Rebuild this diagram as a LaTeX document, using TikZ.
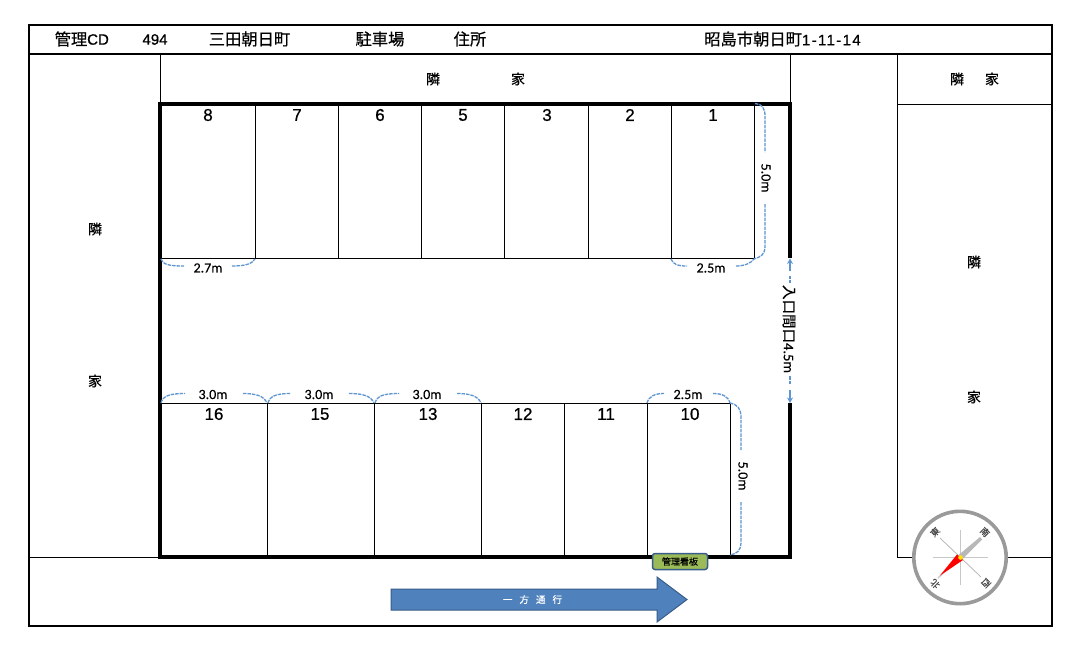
\documentclass[tikz,border=0pt]{standalone}
\usepackage{fontspec}
\setmainfont{Liberation Sans}
\newfontfamily\cjk[FakeBold=0.5]{Noto Sans CJK JP}
\newfontfamily\hw[FakeBold=0.5,LetterSpace=9]{Liberation Sans}
\newfontfamily\num[FakeBold=0.8]{Liberation Sans}
\newfontfamily\dimf[FakeBold=0.2]{Carlito}
\usetikzlibrary{arrows.meta}
\definecolor{dimblue}{HTML}{5F95D0}
\definecolor{arrowfill}{HTML}{4F81BD}
\definecolor{arrowedge}{HTML}{385D8A}
\definecolor{signfill}{HTML}{9BBB59}
\definecolor{ringgray}{HTML}{9A9A9A}
\tikzset{
  thinline/.style={line width=1pt,black},
  wall/.style={line width=4pt,black,line cap=butt,line join=miter},
  frameline/.style={line width=2pt,black},
  dimline/.style={line width=1.3pt,dimblue,dash pattern=on 3.5pt off 1pt},
  head/.style={font=\cjk\fontsize{16.3}{16}\selectfont,inner sep=0pt,text=black},
  headlatin/.style={font=\num\fontsize{15}{16}\selectfont,inner sep=0pt},
  neighbor/.style={font=\cjk\fontsize{14}{14}\selectfont,inner sep=0pt},
  stallno/.style={font=\num\fontsize{17}{16}\selectfont,inner sep=0pt},
  dimtext/.style={font=\dimf\fontsize{14}{14}\selectfont,inner sep=0pt},
  compasschar/.style={font=\cjk\fontsize{9}{9}\selectfont,inner sep=0pt,text=black!70},
}
\begin{document}
\begin{tikzpicture}[x=1pt,y=-1pt]
\useasboundingbox (0,0) rectangle (1087,654);
\fill[white] (0,0) rectangle (1087,654);
% frame
\draw[thinline] (160,54) -- (160,103);
\draw[thinline] (790,54) -- (790,103);
\draw[thinline] (897,54) -- (897,557);
\draw[thinline] (897,104.5) -- (1052,104.5);
\draw[thinline] (29,557) -- (160,557);
\draw[thinline] (897,557) -- (1052,557);
\draw[frameline] (29,25) rectangle (1052,626);
\draw[frameline] (29,54) -- (1052,54);
% stalls
\foreach \x in {255,338,421,504,588,671,754} \draw[thinline] (\x,103) -- (\x,258.5);
\draw[thinline] (160,258.5) -- (754,258.5);
\foreach \x in {267,374,481,564,647,730} \draw[thinline] (\x,403) -- (\x,557);
\draw[thinline] (160,403) -- (730,403);
% walls
\draw[wall] (790,258) -- (790,104) -- (160,104) -- (160,556.5) -- (790,556.5) -- (790,403);
% header
\node[head] (hcd) at (71,39) {管理};
\node[inner sep=0pt,anchor=west,font=\num\fontsize{15}{16}\selectfont] (hcdl) at (87,39.5) {CD};
\node[headlatin] (hno) at (155,39.5) {494};
\node[head] (hname) at (249.5,39) {三田朝日町};
\node[head] (hkind) at (380,39) {駐車場};
\node[head] (haddr) at (470,39) {住所};
\node[head,anchor=west] (haddr2) at (704,39) {昭島市朝日町\hw\fontsize{15}{16}\selectfont 1-11-14};
% neighbours
\node[neighbor] (n1) at (433,79) {隣};
\node[neighbor] (n2) at (518,79) {家};
\node[neighbor] (n3) at (957,79) {隣};
\node[neighbor] (n4) at (992,79) {家};
\node[neighbor] (n5) at (95,229) {隣};
\node[neighbor] (n6) at (95,381) {家};
\node[neighbor] (n7) at (974,262) {隣};
\node[neighbor] (n8) at (974,397) {家};
% stall numbers
\foreach \x/\t in {208/8,297/7,380/6,463/5,547/3,630/2,713/1} \node[stallno] (s\t) at (\x,115) {\t};
\foreach \x/\t in {214/16,320/15,428/13,523/12,606/11,690/10} \node[stallno] (s\t) at (\x,414) {\t};
% dimensions
\draw[dimline] (755,103.5) .. controls (762,104) and (765,108) .. (765,116) -- (765,152);
\draw[dimline] (765,204) -- (765,247) .. controls (765,254) and (761,257) .. (754,259);
\node[dimtext,rotate=-90] (d1) at (766,178) {5.0m};
\draw[dimline] (671,259) .. controls (673,264) and (677,266) .. (687,266);
\draw[dimline] (736,266) .. controls (745,266) and (751,263) .. (754,259);
\node[dimtext] (d2) at (711,268) {2.5m};
\draw[dimline] (161,259) .. controls (163,264) and (167,266) .. (184,266);
\draw[dimline] (232,266) .. controls (245,266) and (252,264) .. (255,259);
\node[dimtext] (d3) at (208,268) {2.7m};
\foreach \a/\m/\b in {160/214/267,267/320/374,374/428/481} {
  \draw[dimline] (\a+1,403) .. controls (\a+3,396) and (\a+9,393.5) .. (\m-29,393.5);
  \draw[dimline] (\m+29,393.5) .. controls (\b-11,393.5) and (\b-3,396) .. (\b,403);
  \node[dimtext] at (\m-1,394.5) {3.0m};
}
\draw[dimline] (647,403) .. controls (649,396) and (655,393.5) .. (664,393.5);
\draw[dimline] (713,393.5) .. controls (722,393.5) and (728,396) .. (730,403);
\node[dimtext] (d4) at (688,394.5) {2.5m};
\draw[dimline] (730,403) .. controls (737,404) and (741,409) .. (741,416) -- (741,450);
\draw[dimline] (741,502) -- (741,543) .. controls (741,550) and (737,554) .. (730,555);
\node[dimtext,rotate=-90] (d5) at (743,476) {5.0m};
% entrance
\node[inner sep=0pt,rotate=-90,font=\cjk\fontsize{14.5}{14}\selectfont] (ent) at (789,329) {入口間口\dimf\fontsize{14.5}{14}\selectfont 4.5m};
\draw[line width=1.1pt,dimblue,-{Stealth[length=5.5pt,width=6pt]}] (790,271) -- (790,258.5);
\draw[line width=1.1pt,dimblue,dash pattern=on 3.5pt off 1pt] (790,283) -- (790,276);
\draw[line width=1.1pt,dimblue,dash pattern=on 3.5pt off 1pt] (790,376) -- (790,385);
\draw[line width=1.1pt,dimblue,-{Stealth[length=5.5pt,width=6pt]}] (790,390) -- (790,403);
% sign
\node[draw=arrowedge,fill=signfill,line width=1.5pt,rounded corners=2.5pt,minimum width=55pt,minimum height=16pt,inner sep=0pt,font=\cjk\fontsize{9}{9}\selectfont] (sign) at (680,561.5) {管理看板};
% one-way arrow
\fill[arrowfill,draw=arrowedge,line width=1pt] (391,589) -- (657,589) -- (657,577) -- (687,599.5) -- (657,622) -- (657,610) -- (391,610) -- cycle;
\node[inner sep=0pt,text=white,font=\cjk\fontsize{9.5}{9}\selectfont] (oneway) at (532.5,599.5) {一\hspace{7pt}方\hspace{7pt}通\hspace{7pt}行};
% compass
\fill[white] (960,557.5) circle (48);
\draw[ringgray,line width=3.6pt] (960,557.5) circle (46.2);
\draw[black!22,line width=0.8pt,dash pattern=on 1.5pt off 0.5pt] (933,557.5) -- (988,557.5);
\draw[black!22,line width=0.8pt,dash pattern=on 1.5pt off 0.5pt] (960,530) -- (960,585);
\draw[black!30,line width=0.7pt] (940,538) -- (981,577);
\fill[black!28] (958,555.5) -- (980,537) -- (982,539.5) -- (962,559.5) -- cycle;
\draw[black!20,line width=1.5pt] (960,557.5) -- (938,578);
\fill[red] (957,554.5) -- (940,575.5) -- (963,560) -- cycle;
\fill[yellow!85!orange] (960.5,557.5) circle (2.3);
\node[compasschar,rotate=45] (ce) at (935,532) {東};
\node[compasschar,rotate=-45] (cs) at (985,532) {南};
\node[compasschar,rotate=-135] (cw) at (986,583) {西};
\node[compasschar,rotate=135] (cn) at (935,584) {北};
\end{tikzpicture}
\end{document}
